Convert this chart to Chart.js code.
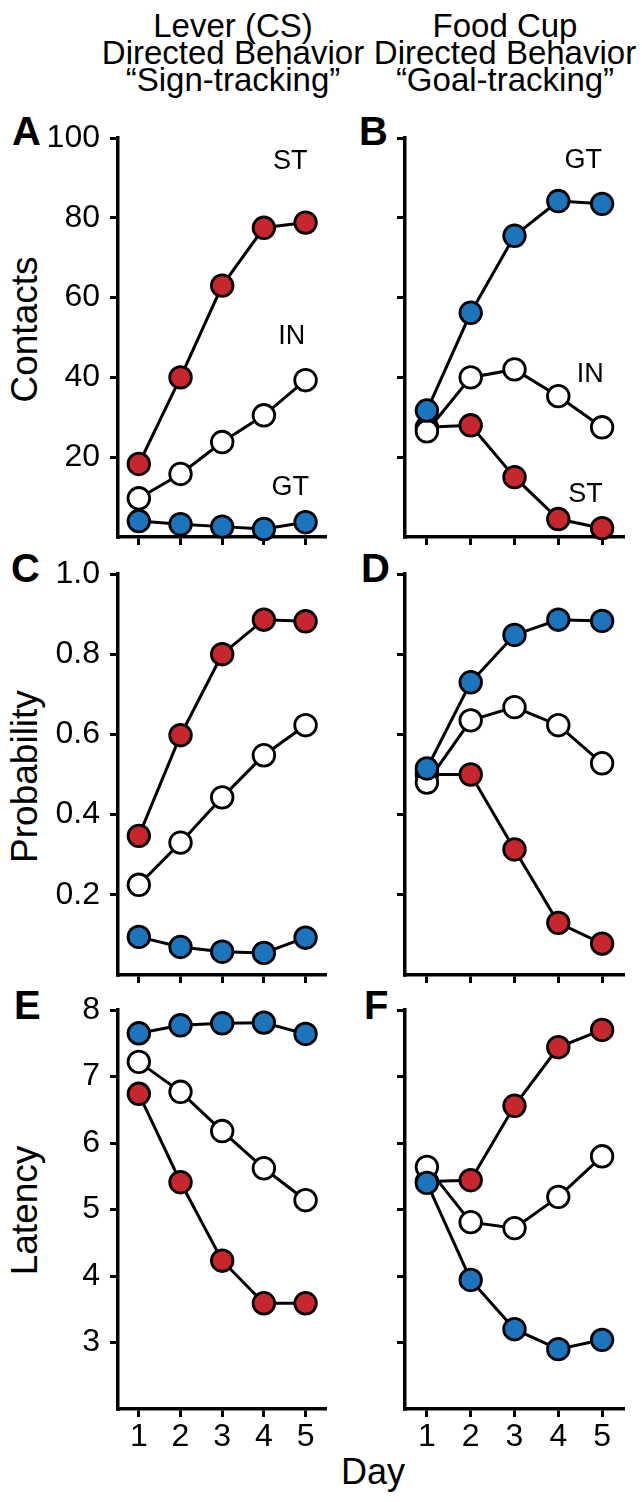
<!DOCTYPE html>
<html><head><meta charset="utf-8">
<script src="https://cdn.jsdelivr.net/npm/chart.js@4.4.1/dist/chart.umd.min.js"></script>
<style>
html,body{margin:0;padding:0;background:#fff;width:642px;height:1502px;overflow:hidden;position:relative;font-family:"Liberation Sans",Arial,sans-serif;color:#000}
canvas{position:absolute}
.t{position:absolute;white-space:nowrap;text-align:center;font-family:"Liberation Sans",Arial,sans-serif;color:#000}
.hdr{font-size:33px;line-height:27px;width:320px;top:12px}
.let{font-size:40px;line-height:40px;font-weight:bold;text-align:left}
.ytl{font-size:37px;line-height:37px;width:300px;height:37px;transform:rotate(-90deg)}
</style></head><body>

<div class="t hdr" style="left:73px">Lever (CS)<br>Directed Behavior<br>“Sign-tracking”</div>
<div class="t hdr" style="left:345px">Food Cup<br>Directed Behavior<br>“Goal-tracking”</div>

<div class="t let" style="left:12px;top:111px">A</div>
<div class="t let" style="left:359px;top:111px">B</div>
<div class="t let" style="left:11px;top:548px">C</div>
<div class="t let" style="left:361px;top:548px">D</div>
<div class="t let" style="left:14px;top:985px">E</div>
<div class="t let" style="left:364px;top:985px">F</div>

<div class="t ytl" style="left:-126px;top:311px">Contacts</div>
<div class="t ytl" style="left:-126px;top:758px">Probability</div>
<div class="t ytl" style="left:-126px;top:1192px">Latency</div>

<div class="t" style="font-size:36px;line-height:36px;width:200px;left:273px;top:1454px">Day</div>

<canvas id="cA" width="340" height="456" style="left:0;top:100px;width:340px;height:456px"></canvas>
<canvas id="cB" width="302" height="456" style="left:340px;top:100px;width:302px;height:456px"></canvas>
<canvas id="cC" width="340" height="434" style="left:0;top:556px;width:340px;height:434px"></canvas>
<canvas id="cD" width="302" height="434" style="left:340px;top:556px;width:302px;height:434px"></canvas>
<canvas id="cE" width="340" height="512" style="left:0;top:990px;width:340px;height:512px"></canvas>
<canvas id="cF" width="302" height="512" style="left:340px;top:990px;width:302px;height:512px"></canvas>

<script>
// ---- Data ----
const days = [1, 2, 3, 4, 5];
const dayTickLabels = ['1', '2', '3', '4', '5'];

// Panel A: Lever contacts
const leverContactsST = [18.3, 40.0, 63.0, 77.5, 78.8];
const leverContactsIN = [9.7, 15.8, 23.8, 30.5, 39.3];
const leverContactsGT = [4.0, 3.2, 2.6, 2.0, 3.7];
// Panel B: Food cup contacts
const cupContactsGT = [31.7, 56.2, 75.5, 84.2, 83.5];
const cupContactsIN = [26.5, 40.0, 42.0, 35.3, 27.5];
const cupContactsST = [27.5, 28.0, 15.0, 4.5, 2.2];
// Panel C: Lever probability
const leverProbST = [0.347, 0.598, 0.800, 0.886, 0.882];
const leverProbIN = [0.225, 0.330, 0.443, 0.548, 0.623];
const leverProbGT = [0.095, 0.070, 0.058, 0.055, 0.093];
// Panel D: Food cup probability
const cupProbGT = [0.515, 0.730, 0.848, 0.886, 0.883];
const cupProbIN = [0.480, 0.635, 0.668, 0.623, 0.528];
const cupProbST = [0.500, 0.500, 0.313, 0.130, 0.078];
// Panel E: Lever latency
const leverLatGT = [7.65, 7.77, 7.80, 7.81, 7.64];
const leverLatIN = [7.22, 6.77, 6.18, 5.62, 5.14];
const leverLatST = [6.74, 5.41, 4.23, 3.59, 3.59];
// Panel F: Food cup latency
const cupLatST = [5.42, 5.44, 6.56, 7.44, 7.70];
const cupLatIN = [5.64, 4.81, 4.72, 5.19, 5.80];
const cupLatGT = [5.40, 3.94, 3.20, 2.90, 3.04];

// Tick values / labels
const contactsTicks = [20, 40, 60, 80, 100];
const contactsTickLabels = ['20', '40', '60', '80', '100'];
const probTicks = [0.2, 0.4, 0.6, 0.8, 1.0];
const probTickLabels = ['0.2', '0.4', '0.6', '0.8', '1.0'];
const latencyTicks = [3, 4, 5, 6, 7, 8];
const latencyTickLabels = ['3', '4', '5', '6', '7', '8'];

// ---- Styles ----
const RED = '#C8262D', BLUE = '#1C75BC', WHITE = '#FFFFFF';
const FONT = '"Liberation Sans", Arial, sans-serif';

const groupLabelPlugin = {
  id: 'groupLabels',
  afterDatasetsDraw(chart, args, opts) {
    const {ctx, scales: {x, y}} = chart;
    ctx.save();
    ctx.font = '27px ' + FONT;
    ctx.fillStyle = '#000';
    ctx.textAlign = 'center';
    ctx.textBaseline = 'middle';
    (opts.items || []).forEach(it => {
      ctx.fillText(it.text, x.getPixelForValue(it.x), y.getPixelForValue(it.y));
    });
    ctx.restore();
  }
};
const cornerPlugin = {
  id: 'corner',
  afterDraw(chart) {
    const {ctx, chartArea: a} = chart;
    ctx.save();
    ctx.fillStyle = '#000';
    ctx.fillRect(a.left - 1.75, a.bottom - 1.75, 3.5, 3.5);
    ctx.restore();
  }
};

function ds(data, fill) {
  return {
    data: data.map((v, i) => ({x: days[i], y: v})),
    borderColor: '#000', borderWidth: 3,
    pointBackgroundColor: fill, pointBorderColor: '#000',
    pointBorderWidth: 2.8, pointRadius: 10.8, pointHoverRadius: 10.8,
    tension: 0, clip: false, fill: false
  };
}

function makeChart(id, c) {
  new Chart(document.getElementById(id), {
    type: 'line',
    data: {datasets: [ds(c.gt, BLUE), ds(c.inn, WHITE), ds(c.st, RED)]},
    plugins: [groupLabelPlugin, cornerPlugin],
    options: {
      responsive: false, animation: false, devicePixelRatio: 1,
      layout: {padding: {top: c.padTop, right: c.padRight, left: 0, bottom: 0}},
      plugins: {legend: {display: false}, tooltip: {enabled: false}, title: {display: false},
        groupLabels: {items: c.labels || []}},
      scales: {
        x: {
          type: 'linear', min: 0.5, max: 5.5,
          afterBuildTicks: s => { s.ticks = days.map(v => ({value: v})); },
          afterFit: s => { s.height = c.xHeight; s.paddingLeft = 0; s.paddingRight = 0; },
          grid: {display: true, drawOnChartArea: false, drawTicks: true, tickLength: 8, tickWidth: 3, tickColor: '#000', color: '#000'},
          border: {display: true, color: '#000', width: 3.5},
          ticks: {display: c.showX, color: '#000', font: {family: FONT, size: 32}, padding: 1, maxRotation: 0, autoSkip: false,
            callback: (v, i) => dayTickLabels[i]}
        },
        y: {
          type: 'linear', min: c.yMin, max: c.yMax,
          afterBuildTicks: s => { s.ticks = c.yTicks.map(v => ({value: v})); },
          afterFit: s => { s.width = c.yWidth; s.paddingTop = 0; s.paddingBottom = 0; },
          grid: {display: true, drawOnChartArea: false, drawTicks: true, tickLength: 8, tickWidth: 3, tickColor: '#000', color: '#000'},
          border: {display: true, color: '#000', width: 3.5},
          ticks: {display: c.showY, color: '#000', font: {family: FONT, size: 32}, padding: 10, autoSkip: false,
            callback: (v, i) => c.yLabels[i]}
        }
      }
    }
  });
}

const L = {yWidth: 118, padRight: 4, showY: true};
const R = {yWidth: 65, padRight: 18, showY: false};

makeChart('cA', Object.assign({}, L, {gt: leverContactsGT, inn: leverContactsIN, st: leverContactsST,
  yMin: 0, yMax: 100, yTicks: contactsTicks, yLabels: contactsTickLabels, padTop: 38, xHeight: 19, showX: false,
  labels: [{text: 'ST', x: 4.63, y: 94}, {text: 'IN', x: 4.67, y: 50.3}, {text: 'GT', x: 4.63, y: 12.5}]}));
makeChart('cB', Object.assign({}, R, {gt: cupContactsGT, inn: cupContactsIN, st: cupContactsST,
  yMin: 0, yMax: 100, yTicks: contactsTicks, yLabels: contactsTickLabels, padTop: 38, xHeight: 19, showX: false,
  labels: [{text: 'GT', x: 4.57, y: 94.3}, {text: 'IN', x: 4.73, y: 40.8}, {text: 'ST', x: 4.62, y: 10.75}]}));
makeChart('cC', Object.assign({}, L, {gt: leverProbGT, inn: leverProbIN, st: leverProbST,
  yMin: 0, yMax: 1, yTicks: probTicks, yLabels: probTickLabels, padTop: 18, xHeight: 15, showX: false}));
makeChart('cD', Object.assign({}, R, {gt: cupProbGT, inn: cupProbIN, st: cupProbST,
  yMin: 0, yMax: 1, yTicks: probTicks, yLabels: probTickLabels, padTop: 18, xHeight: 15, showX: false}));
makeChart('cE', Object.assign({}, L, {gt: leverLatGT, inn: leverLatIN, st: leverLatST,
  yMin: 2, yMax: 8, yTicks: latencyTicks, yLabels: latencyTickLabels, padTop: 20, xHeight: 93, showX: true}));
makeChart('cF', Object.assign({}, R, {gt: cupLatGT, inn: cupLatIN, st: cupLatST,
  yMin: 2, yMax: 8, yTicks: latencyTicks, yLabels: latencyTickLabels, padTop: 20, xHeight: 93, showX: true}));
</script>
</body></html>
